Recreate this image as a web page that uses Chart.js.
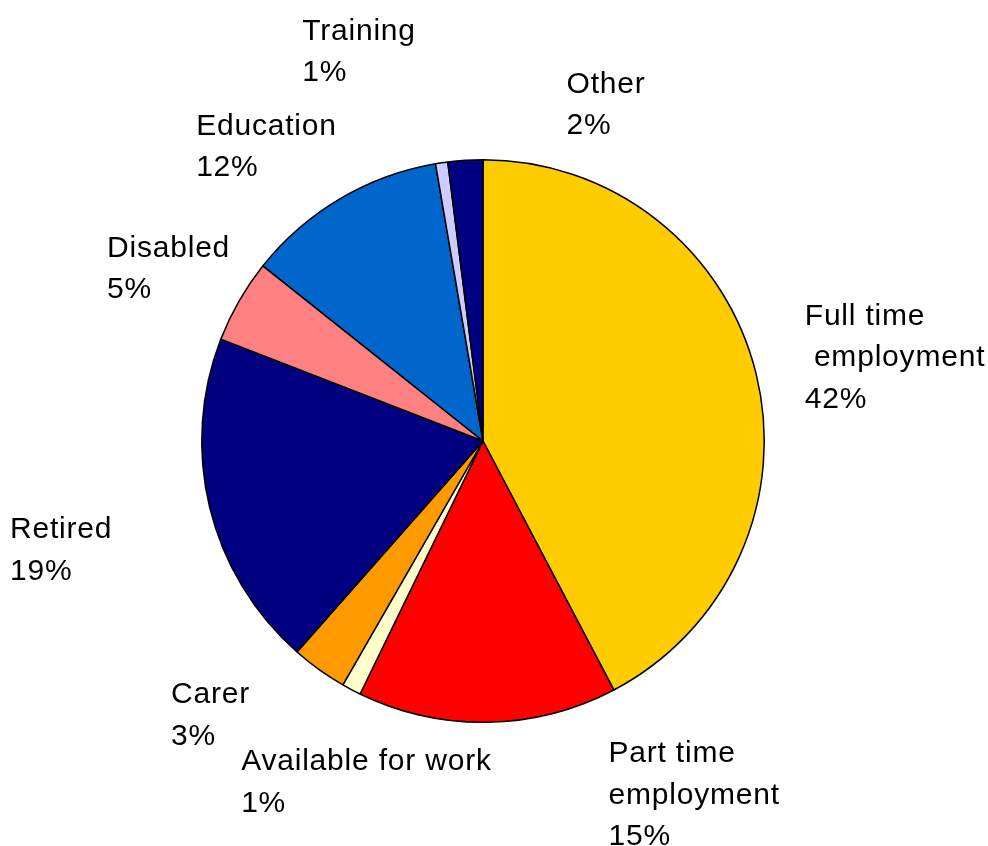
<!DOCTYPE html>
<html>
<head>
<meta charset="utf-8">
<script src="https://cdn.jsdelivr.net/npm/chart.js@4.4.1/dist/chart.umd.min.js"></script>
<style>
    html, body { margin: 0; padding: 0; background: #fff; }
    #wrap { width: 988px; height: 846px; position: relative; }
</style>
</head>
<body>
<div id="wrap"><canvas id="pie-chart"></canvas></div>
<script>
// Chart data
const categories = [
    'Full time\n employment',
    'Part time\nemployment',
    'Available for work',
    'Carer',
    'Retired',
    'Disabled',
    'Education',
    'Training',
    'Other'
];
const shares = [42.3, 14.9, 1.1, 3.2, 19.4, 4.8, 11.6, 0.7, 2.0];
const sliceColors = ['#FFCC00', '#FF0000', '#FFFFCC', '#FF9900', '#000080', '#FF8080', '#0066CC', '#CCCCFF', '#000080'];

// Where each label sits, relative to the pie centre, in units of the radius
// (left edge / first baseline of the text block)
const labelLayout = [
    [1.144, -0.413],
    [0.446, 1.142],
    [-0.860, 1.171],
    [-1.109, 0.932],
    [-1.682, 0.345],
    [-1.337, -0.655],
    [-1.020, -1.089],
    [-0.643, -1.427],
    [0.297, -1.238]
];

const pieLabels = {
    id: 'pieLabels',
    afterDraw(chart) {
        const ctx = chart.ctx;
        const meta = chart.getDatasetMeta(0);
        const values = chart.data.datasets[0].data;
        const total = values.reduce((a, b) => a + b, 0);
        ctx.save();
        ctx.fillStyle = '#000';
        ctx.font = '30px "Liberation Sans", Arial, sans-serif';
        ctx.letterSpacing = '0.8px';
        ctx.textAlign = 'left';
        ctx.textBaseline = 'alphabetic';
        meta.data.forEach((arc, i) => {
            const r = arc.outerRadius;
            const x = arc.x + labelLayout[i][0] * r;
            let y = arc.y + labelLayout[i][1] * r;
            const lines = chart.data.labels[i].split('\n');
            lines.push(Math.round(values[i] / total * 100) + '%');
            lines.forEach(line => {
                ctx.fillText(line, x, y);
                y += 41.5;
            });
        });
        ctx.restore();
    }
};

const pieCtx = document.getElementById('pie-chart').getContext('2d');
new Chart(pieCtx, {
    type: 'pie',
    data: {
        labels: categories,
        datasets: [{
            data: shares,
            backgroundColor: sliceColors,
            borderColor: '#000',
            borderWidth: 1.5
        }]
    },
    options: {
        responsive: true,
        maintainAspectRatio: false,
        animation: false,
        layout: {
            padding: { left: 200, right: 222, top: 159, bottom: 123 }
        },
        plugins: {
            legend: { display: false },
            tooltip: { enabled: false }
        }
    },
    plugins: [pieLabels]
});
</script>
</body>
</html>
